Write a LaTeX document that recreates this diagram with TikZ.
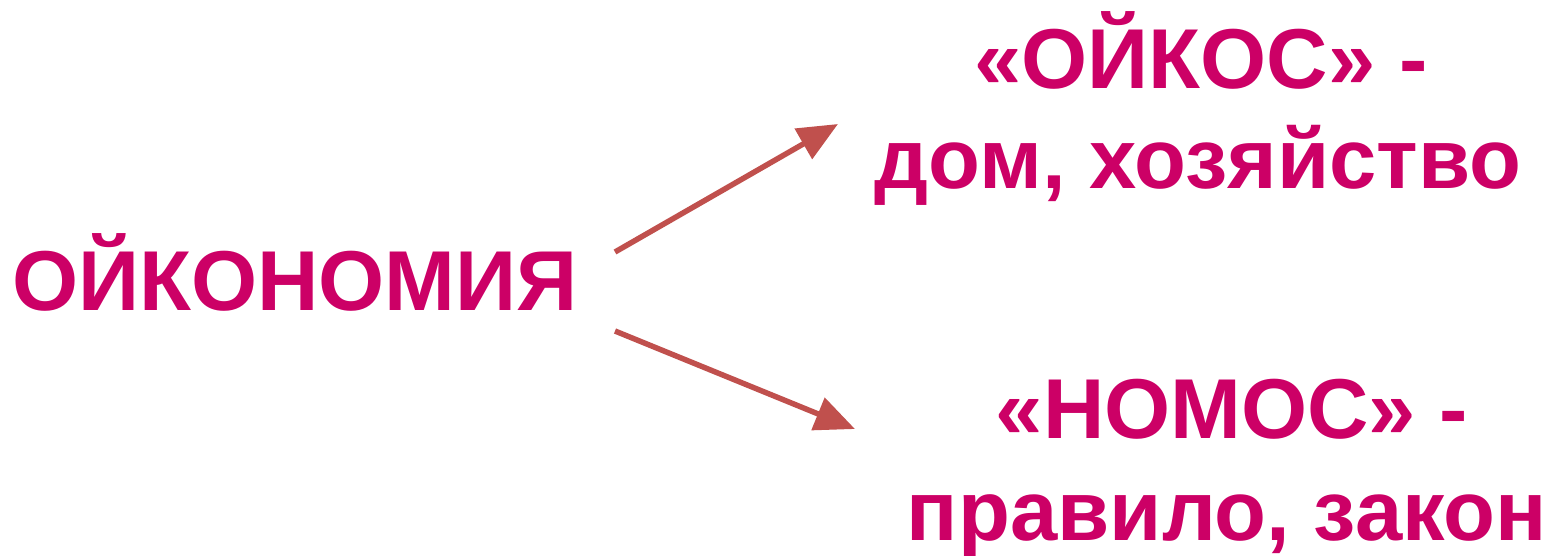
\documentclass[tikz,border=0pt]{standalone}
\usepackage{fontspec}
\setmainfont{Liberation Sans}
\usetikzlibrary{arrows.meta}
\definecolor{txt}{HTML}{CC0066}
\definecolor{arr}{HTML}{C0504D}
\tikzset{
  lbl/.style={inner sep=0pt, anchor=base, text=txt, font=\fontsize{85}{100}\selectfont\bfseries},
  conn/.style={draw=arr, line width=5.5pt, -{Triangle[length=40pt,width=34pt]}}
}
\begin{document}
\begin{tikzpicture}[x=1pt,y=-1pt]
\useasboundingbox (0,0) rectangle (1558,555);
\node[lbl, anchor=base west] (main) at (12,310) {ОЙКОНОМИЯ};
\node[lbl] (oikos) at (1201,88) {«ОЙКОС» -};
\node[lbl] (oikosd) at (1198,188) {дом, хозяйство};
\node[lbl] (nomos) at (1232,438) {«НОМОС» -};
\node[lbl] (nomosd) at (1227,540) {правило, закон};
\coordinate (s1) at (615,252);
\coordinate (e1) at (838,124);
\coordinate (s2) at (615,331);
\coordinate (e2) at (855,429);
\draw[conn] (s1) -- (e1);
\draw[conn] (s2) -- (e2);
\end{tikzpicture}
\end{document}
